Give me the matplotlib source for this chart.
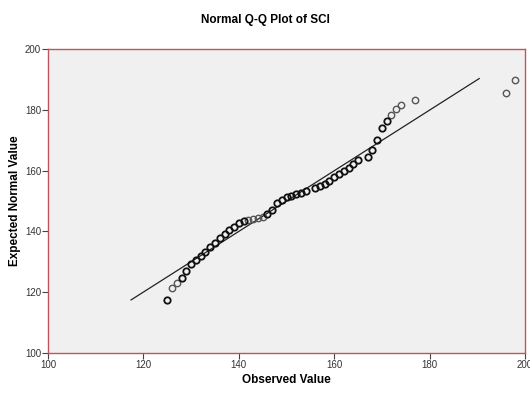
import matplotlib
matplotlib.use("Agg")
import matplotlib.pyplot as plt

observed = [125, 126, 127, 128, 129, 130, 131, 132, 133, 134, 135, 136, 137,
            138, 139, 140, 141, 142, 143, 144, 145, 146, 147, 148, 149, 150,
            151, 152, 153, 154, 156, 157, 158, 159, 160, 161, 162, 163, 164,
            165, 167, 168, 169, 170, 171, 172, 173, 174, 177, 196, 198]
expected = [117.3, 121.2, 122.9, 124.7, 126.9, 129.1, 130.7, 131.9, 133.1,
            134.8, 136.3, 137.8, 139.1, 140.3, 141.5, 142.7, 143.4, 143.9,
            144.2, 144.5, 144.8, 145.6, 147.0, 149.4, 150.5, 151.2, 151.8,
            152.3, 152.7, 153.3, 154.4, 154.9, 155.5, 156.6, 157.8, 158.8,
            159.8, 160.9, 162.2, 163.4, 164.6, 166.7, 170.3, 174.1, 176.4,
            178.5, 180.3, 181.7, 183.3, 185.6, 189.9]
# how many cases fall on each point (overlapping points look darker)
counts = [2, 1, 1, 2, 2, 2, 2, 2, 2, 2, 2, 2, 2, 2, 2, 2, 2, 1, 1, 1, 1, 2,
          2, 2, 2, 2, 2, 2, 2, 2, 2, 2, 2, 2, 2, 2, 2, 2, 2, 2, 2, 2, 3, 2,
          2, 1, 1, 1, 1, 1, 1]
ref_line = [117.4, 190.4]

plt.rcParams['font.family'] = ['Liberation Sans', 'DejaVu Sans']

fig = plt.figure(figsize=(5.3, 3.98), dpi=100)
ax = fig.add_axes([0.0906, 0.1138, 0.9, 0.762])
ax.set_facecolor('#f0f0f0')

ax.plot(ref_line, ref_line, color='#222222', linewidth=0.9, zorder=2)

dark_x = [o for o, c in zip(observed, counts) if c > 1]
dark_y = [e for e, c in zip(expected, counts) if c > 1]
light_x = [o for o, c in zip(observed, counts) if c == 1]
light_y = [e for e, c in zip(expected, counts) if c == 1]
ax.plot(light_x, light_y, 'o', mfc='none', mec='#555555', ms=4.6, mew=1.0,
        zorder=3)
ax.plot(dark_x, dark_y, 'o', mfc='none', mec='#111111', ms=4.6, mew=1.3,
        zorder=3)

ax.set_xlim(100, 200)
ax.set_ylim(100, 200)
ax.set_xticks([100, 120, 140, 160, 180, 200])
ax.set_yticks([100, 120, 140, 160, 180, 200])
ax.tick_params(labelsize=7, labelcolor='#333333', length=4, width=0.8,
               color='#444444', pad=1)

for s in ax.spines.values():
    s.set_color('#c0555f')
    s.set_linewidth(1.0)

ax.set_xlabel('Observed Value', fontsize=8.5, fontweight='bold', labelpad=3)
ax.set_ylabel('Expected Normal Value', fontsize=8.5, fontweight='bold',
              labelpad=3)
fig.suptitle('Normal Q-Q Plot of SCI', fontsize=8.5, fontweight='bold',
             y=0.965)

fig.savefig('out.png', dpi=100)
